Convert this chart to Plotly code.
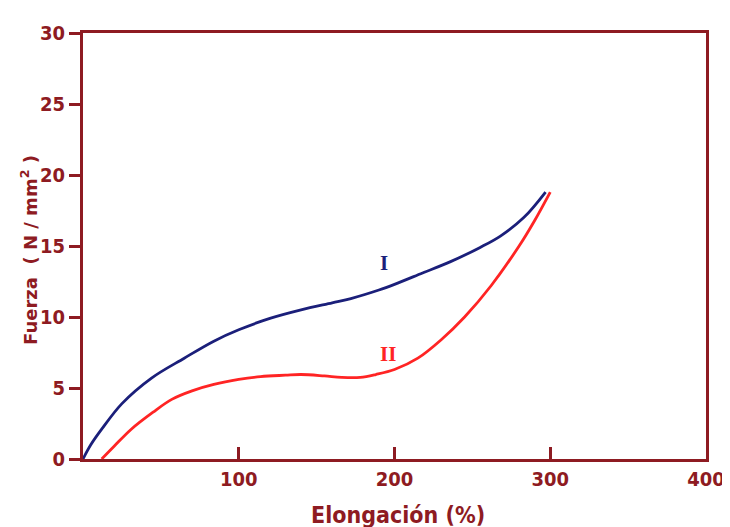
import plotly.graph_objects as go

# Curve I (blue)
x_I = [0, 5, 12, 25, 44, 65, 84, 100, 120, 140, 160, 172, 190, 200, 218, 236, 255, 268, 283, 297]
y_I = [0, 1.0, 2.1, 3.9, 5.7, 7.1, 8.3, 9.1, 9.9, 10.5, 11.0, 11.3, 11.9, 12.3, 13.1, 13.9, 14.9, 15.7, 17.0, 18.8]

# Curve II (red)
x_II = [12, 20, 31, 45, 57, 70, 84, 100, 114, 130, 140, 155, 166, 178, 188, 200, 215, 230, 245, 262, 280, 290, 300]
y_II = [0, 0.9, 2.1, 3.3, 4.2, 4.8, 5.25, 5.6, 5.8, 5.9, 5.95, 5.85, 5.75, 5.75, 5.95, 6.3, 7.1, 8.4, 10.0, 12.2, 15.0, 16.8, 18.8]

x_ticks = [100, 200, 300, 400]
y_ticks = [0, 5, 10, 15, 20, 25, 30]

x_title = "Elongación (%)"
y_title = "Fuerza  ( N / mm<sup>2</sup> )"

maroon = "#8E1B22"
navy = "#1B1F7A"
red = "#FF2424"
font_fam = "DejaVu Sans Condensed, Liberation Sans Narrow, DejaVu Sans"

fig = go.Figure()
fig.add_trace(go.Scatter(x=x_I, y=y_I, mode="lines", line=dict(color=navy, width=2.8, shape="spline"), showlegend=False))
fig.add_trace(go.Scatter(x=x_II, y=y_II, mode="lines", line=dict(color=red, width=2.8, shape="spline"), showlegend=False))

fig.add_annotation(x=193, y=13.8, text="<b>I</b>", showarrow=False,
                   font=dict(family="Liberation Serif", size=21, color=navy))
fig.add_annotation(x=196, y=7.4, text="<b>II</b>", showarrow=False,
                   font=dict(family="Liberation Serif", size=21, color=red))

# axis titles as annotations for precise placement
fig.add_annotation(xref="paper", yref="paper", x=0, y=0.5, xanchor="center", yanchor="middle",
                   xshift=-54, yshift=-4, textangle=-90, showarrow=False,
                   text="<b>%s</b>" % y_title,
                   font=dict(family="DejaVu Sans", size=18, color=maroon))
fig.add_annotation(xref="paper", yref="paper", x=0.5, y=0, xanchor="center", yanchor="middle",
                   yshift=-56, xshift=3, showarrow=False,
                   text="<b>%s</b>" % x_title,
                   font=dict(family=font_fam, size=23, color=maroon))

fig.update_layout(
    width=722, height=519,
    margin=dict(l=75, r=24, t=25, b=68),
    paper_bgcolor="white", plot_bgcolor="white",
    font=dict(family=font_fam, color=maroon),
)
fig.update_xaxes(
    range=[0, 400], tickvals=x_ticks, ticktext=["<b>%d</b>" % v for v in x_ticks],
    ticks="inside", ticklen=12, tickwidth=2.5, tickcolor=maroon,
    showline=True, linecolor=maroon, linewidth=3, mirror=True,
    showgrid=False, zeroline=False, automargin=False,
    tickfont=dict(family=font_fam, size=20, color=maroon),
)
fig.update_yaxes(
    range=[0, 30], tickvals=y_ticks, ticktext=["<b>%d</b>" % v for v in y_ticks],
    ticks="outside", ticklen=11, tickwidth=2.5, tickcolor=maroon,
    showline=True, linecolor=maroon, linewidth=3, mirror=True,
    showgrid=False, zeroline=False, automargin=False,
    tickfont=dict(family=font_fam, size=20, color=maroon),
)

fig.write_html("out.html")
